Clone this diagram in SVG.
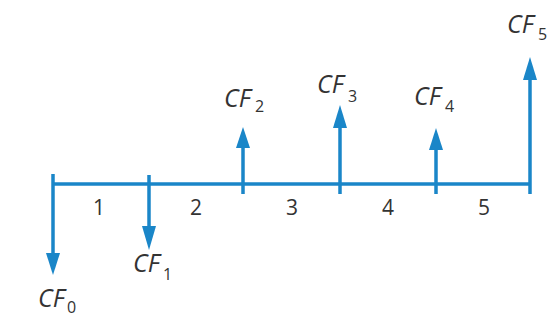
<svg xmlns="http://www.w3.org/2000/svg" width="549" height="325" viewBox="0 0 549 325">
<style>
.ln{stroke:#1a86c8;stroke-width:3.5;fill:none;stroke-linecap:butt}
.hd{fill:#1a86c8}
.cf{font-family:"Open Sans","Liberation Sans",sans-serif;font-style:italic;font-weight:500;font-size:25px;fill:#333}
.sb{font-family:"Open Sans","Liberation Sans",sans-serif;font-weight:500;font-size:16px;fill:#333}
.num{font-family:"Open Sans","Liberation Sans",sans-serif;font-weight:500;font-size:21px;fill:#333;text-anchor:middle}
</style>
<rect width="549" height="325" fill="#fff"/>
<g id="connectors">
<line class="ln" x1="53" y1="184" x2="531" y2="184"/>
<line class="ln" x1="53" y1="174" x2="53" y2="255"/>
<polygon class="hd" points="46,253 60,253 53,275"/>
<line class="ln" x1="149" y1="175" x2="149" y2="228"/>
<polygon class="hd" points="142,226 156,226 149,250"/>
<line class="ln" x1="243" y1="194" x2="243" y2="146"/>
<polygon class="hd" points="236,148 250,148 243,127"/>
<line class="ln" x1="340" y1="194" x2="340" y2="126"/>
<polygon class="hd" points="333,128 347,128 340,105"/>
<line class="ln" x1="436" y1="194" x2="436" y2="148"/>
<polygon class="hd" points="429,150 443,150 436,128"/>
<line class="ln" x1="530" y1="194" x2="530" y2="78"/>
<polygon class="hd" points="523,80 537,80 530,57"/>
</g>
<g id="periods">
<text class="num" x="99" y="215">1</text>
<text class="num" x="196" y="215">2</text>
<text class="num" x="292" y="215">3</text>
<text class="num" x="388" y="215">4</text>
<text class="num" x="484" y="215">5</text>
</g>
<g id="cf0"><text class="cf" x="38" y="307">CF</text><text class="sb" x="67" y="313">0</text></g>
<g id="cf1"><text class="cf" x="133" y="272">CF</text><text class="sb" x="163" y="280">1</text></g>
<g id="cf2"><text class="cf" x="224" y="107">CF</text><text class="sb" x="255" y="112">2</text></g>
<g id="cf3"><text class="cf" x="317" y="93">CF</text><text class="sb" x="348" y="102">3</text></g>
<g id="cf4"><text class="cf" x="414" y="105">CF</text><text class="sb" x="445" y="112">4</text></g>
<g id="cf5"><text class="cf" x="507" y="33">CF</text><text class="sb" x="538" y="40">5</text></g>
</svg>
